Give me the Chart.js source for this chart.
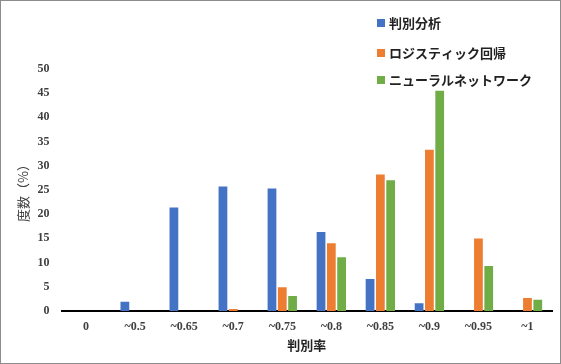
<!DOCTYPE html>
<html>
<head>
<meta charset="utf-8">
<script src="https://cdn.jsdelivr.net/npm/chart.js@4/dist/chart.umd.min.js"></script>
<style>
  html, body { margin: 0; padding: 0; background: #fff; }
  #wrap { width: 561px; height: 364px; position: relative; }
</style>
</head>
<body>
<div id="wrap"><canvas id="c"></canvas></div>
<script>
const categories = ['0', '~0.5', '~0.65', '~0.7', '~0.75', '~0.8', '~0.85', '~0.9', '~0.95', '~1']
const seriesNames = ['判別分析', 'ロジスティック回帰', 'ニューラルネットワーク']
const discriminant = [0, 1.9, 21.4, 25.7, 25.3, 16.3, 6.6, 1.6, 0, 0]
const logistic = [0, 0, 0, 0.4, 4.9, 14.0, 28.2, 33.3, 15.0, 2.7]
const neural = [0, 0, 0, 0, 3.1, 11.1, 27.0, 45.5, 9.3, 2.3]
const colors = ['#4472C4', '#ED7D31', '#70AD47']

const serif = '"Liberation Serif", "DejaVu Serif", serif'
const cjk = '"Noto Sans CJK JP", sans-serif'

// legend drawn inside the plot, top right, plus the outer frame
const sideLegend = {
  id: 'sideLegend',
  afterDraw(chart) {
    const ctx = chart.ctx
    ctx.save()
    ctx.font = 'bold 13px ' + cjk
    ctx.textBaseline = 'middle'
    const ys = [23, 53, 80]
    chart.data.datasets.forEach((ds, i) => {
      ctx.fillStyle = ds.backgroundColor
      ctx.fillRect(377, ys[i] - 4, 8, 8)
      ctx.fillStyle = '#222'
      ctx.fillText(ds.label, 389, ys[i])
    })
    ctx.strokeStyle = '#8c8c8c'
    ctx.lineWidth = 1
    ctx.strokeRect(0.5, 0.5, chart.width - 1, chart.height - 1)
    ctx.restore()
  }
}

const data = {
  labels: categories,
  datasets: [
    { label: seriesNames[0], data: discriminant, backgroundColor: colors[0] },
    { label: seriesNames[1], data: logistic, backgroundColor: colors[1] },
    { label: seriesNames[2], data: neural, backgroundColor: colors[2] }
  ]
}

const config = {
  type: 'bar',
  data: data,
  options: {
    responsive: true,
    maintainAspectRatio: false,
    animation: false,
    datasets: { bar: { categoryPercentage: 0.63, barPercentage: 0.85 } },
    layout: { padding: { top: 69, right: 9, bottom: 11, left: 15 } },
    plugins: { legend: { display: false }, tooltip: { enabled: false } },
    scales: {
      x: {
        grid: { display: false },
        border: { color: '#000', width: 2 },
        ticks: { color: '#404040', font: { family: serif, size: 12, weight: 'bold' }, padding: 1, maxRotation: 0 },
        title: { display: true, text: '判別率', color: '#222', font: { family: cjk, size: 13, weight: 'bold' }, padding: { top: 2, bottom: 0 } }
      },
      y: {
        min: 0, max: 50,
        grid: { display: false },
        border: { display: false },
        ticks: { stepSize: 5, color: '#404040', font: { family: serif, size: 12, weight: 'bold' }, padding: 4 },
        title: { display: true, text: '度数（%）', color: '#404040', font: { family: cjk, size: 13 }, padding: { top: 0, bottom: 3 } }
      }
    }
  },
  plugins: [sideLegend]
}

let ctx = document.getElementById('c').getContext('2d')
new Chart(ctx, config)
</script>
</body>
</html>
